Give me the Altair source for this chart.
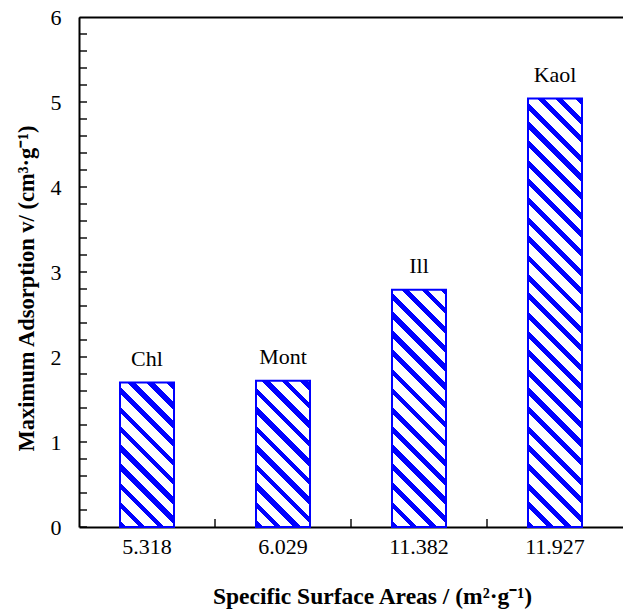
import altair as alt
import pandas as pd

# ---- data ----
areas = ["5.318", "6.029", "11.382", "11.927"]
adsorption = [1.70, 1.72, 2.79, 5.04]
minerals = ["Chl", "Mont", "Ill", "Kaol"]
y_ticks = [0, 1, 2, 3, 4, 5, 6]
y_minor = [round(i * 0.2, 1) for i in range(31)]

df = pd.DataFrame({"area": areas, "ads": adsorption, "mineral": minerals})
df_ticks = pd.DataFrame({"tick": y_minor})

PLOT_W = 544
PLOT_H = 510
Y_MAX = 6
BAR_W = 54
TICK_LEN = 8
BLUE = "#0000FF"
FONT = "Liberation Serif"
PX_PER_UNIT = PLOT_H / Y_MAX


def hatch(value, period=19.0, blue_w=7.0):
    """Diagonal-hatch fill built as a sharp-stop linear gradient."""
    W = BAR_W
    H = value * PX_PER_UNIT
    L = W + H
    den = W * W + H * H
    a = W * L / den
    b = H * L / den
    stops = []
    s = 0.0
    while s < L:
        s1 = min(s + blue_w, L)
        s2 = min(s + period, L)
        stops += [(s / L, BLUE), (s1 / L, BLUE), (s1 / L, "#ffffff"), (s2 / L, "#ffffff")]
        s += period
    return alt.LinearGradient(
        gradient="linear",
        x1=0, y1=1, x2=a, y2=1 - b,
        stops=[alt.GradientStop(offset=round(o, 5), color=c) for o, c in stops],
    )


x_scale = alt.Scale(domain=areas, paddingInner=0, paddingOuter=0)
y_scale = alt.Scale(domain=[0, Y_MAX], nice=False)

x_main = alt.X(
    "area:N", sort=areas, scale=x_scale,
    axis=alt.Axis(
        orient="bottom", ticks=False, domainColor="black", domainWidth=2,
        labelAngle=0, labelFont=FONT, labelFontSize=22, labelColor="black",
        labelPadding=9,
        title="Specific Surface Areas / (m²·g⁻¹)", titleFont=FONT,
        titleFontSize=23.5, titleFontWeight="bold", titleColor="black",
        titleX=293, titleY=76, titleBaseline="alphabetic", titleAlign="center",
    ),
)
y_main = alt.Y(
    "ads:Q", scale=y_scale,
    axis=alt.Axis(
        orient="left", values=y_ticks, format="d", ticks=False, grid=False,
        domainColor="black", domainWidth=2,
        labelFont=FONT, labelFontSize=22, labelColor="black", labelPadding=18,
        title="Maximum Adsorption v/ (cm³·g⁻¹)", titleFont=FONT,
        titleFontSize=22.5, titleFontWeight="bold", titleColor="black",
        titleX=-46, titleY=271, titleBaseline="alphabetic", titleAngle=270,
    ),
)

bar_layers = []
for i, a in enumerate(areas):
    bar_layers.append(
        alt.Chart(df)
        .transform_filter(alt.datum.area == a)
        .mark_bar(fill=hatch(adsorption[i]), stroke=BLUE, strokeWidth=2, size=BAR_W)
        .encode(x=x_main, y=y_main)
    )

labels = (
    alt.Chart(df)
    .mark_text(font=FONT, fontSize=22, color="black", dy=-17, baseline="alphabetic")
    .encode(x=alt.X("area:N", sort=areas, scale=x_scale),
            y=alt.Y("ads:Q", scale=y_scale),
            text="mineral:N")
)

# inward ticks on the y axis (every 0.2): centred on the axis, outer half clipped
y_tick_marks = (
    alt.Chart(df_ticks)
    .mark_tick(color="black", thickness=2, size=2 * TICK_LEN, orient="horizontal", clip=True)
    .encode(y=alt.Y("tick:Q", scale=y_scale), x=alt.value(0))
)

# inward ticks at the band boundaries on the x axis
x_tick_marks = (
    alt.Chart(df)
    .mark_tick(color="black", thickness=2, size=2 * TICK_LEN, orient="vertical", clip=True)
    .encode(x=alt.X("area:N", sort=areas, scale=x_scale, bandPosition=0),
            y=alt.value(PLOT_H))
)

main = alt.layer(*bar_layers, labels, y_tick_marks, x_tick_marks)

# top frame line
frame = (
    alt.Chart(df)
    .mark_point(opacity=0)
    .encode(
        x=alt.X("area:N", sort=areas, scale=alt.Scale(domain=areas, paddingInner=0, paddingOuter=0),
                axis=alt.Axis(orient="top", ticks=False, labels=False, title=None,
                              domainColor="black", domainWidth=2, grid=False)),
    )
)

chart = (
    alt.layer(main, frame)
    .resolve_scale(x="independent")
    .properties(
        width=PLOT_W, height=PLOT_H,
        padding={"left": 79, "top": 17, "right": 0, "bottom": 85},
        autosize=alt.AutoSizeParams(type="none"),
        background="white",
    )
    .configure_view(stroke=None)
)

chart.save("out.html", embed_options={"renderer": "svg", "actions": False})
